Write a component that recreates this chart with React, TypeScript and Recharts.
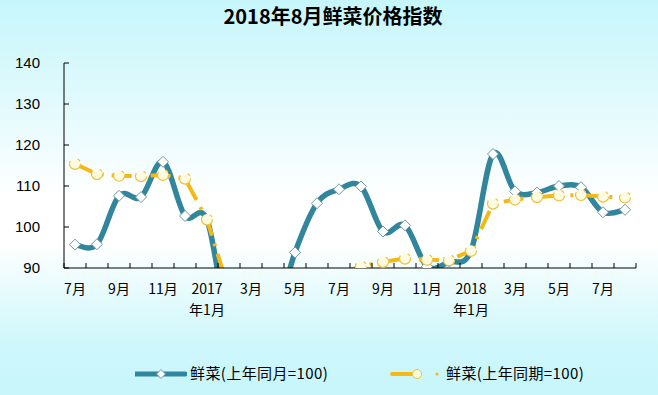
import React from 'react';
import { LineChart, Line, XAxis, YAxis, Legend } from 'recharts';

// 2016-07 ... 2018-08
const months = [
  '2016-07', '2016-08', '2016-09', '2016-10', '2016-11', '2016-12',
  '2017-01', '2017-02', '2017-03', '2017-04', '2017-05', '2017-06',
  '2017-07', '2017-08', '2017-09', '2017-10', '2017-11', '2017-12',
  '2018-01', '2018-02', '2018-03', '2018-04', '2018-05', '2018-06',
  '2018-07', '2018-08',
];
const yoyValues = [
  95.7, 95.8, 107.6, 107.3, 115.9, 102.7,
  101.8, 75.8, 76.0, 76.5, 93.8, 105.8,
  109.2, 109.9, 98.9, 100.4, 90.4, 91.5,
  94.2, 117.8, 108.7, 108.4, 110.0, 109.7,
  103.6, 104.2,
];
const cumValues = [
  115.4, 112.9, 112.5, 112.4, 112.7, 111.8,
  101.8, 84.5, 84.0, 83.5, 84.5, 86.5,
  88.6, 90.4, 91.5, 92.3, 92.0, 91.9,
  94.2, 105.7, 106.7, 107.3, 107.7, 107.8,
  107.4, 107.2,
];
const tickLabelIdx = [0, 2, 4, 6, 8, 10, 12, 14, 16, 18, 20, 22, 24];
const tickLabels = ['7月', '9月', '11月', '2017\n年1月', '3月', '5月', '7月', '9月', '11月', '2018\n年1月', '3月', '5月', '7月'];
const yTicks = [90, 100, 110, 120, 130, 140];
const seriesNames = ['鲜菜(上年同月=100)', '鲜菜(上年同期=100)'];
const title = '2018年8月鲜菜价格指数';

const TEAL = '#31859C';
const YELLOW = '#F5B916';
const CJK = '"Noto Sans CJK SC", "Noto Sans", sans-serif';

const data = months.map((m, i) => ({ idx: i, month: m, yoy: yoyValues[i], cum: cumValues[i] }));

const boundaryTicks = Array.from({ length: months.length + 1 }, (_, i) => i - 0.5);
const xTicks = [...boundaryTicks, ...tickLabelIdx].sort((a, b) => a - b);

// Catmull-Rom style smoothing (similar to office "smoothed line")
const catmullRom = (context: any) => {
  let pts: number[][] = [];
  return {
    areaStart() {},
    areaEnd() {},
    lineStart() { pts = []; },
    point(x: number, y: number) { pts.push([+x, +y]); },
    lineEnd() {
      const n = pts.length;
      if (!n) return;
      context.moveTo(pts[0][0], pts[0][1]);
      if (n === 1) return;
      for (let i = 0; i < n - 1; i++) {
        const p0 = pts[Math.max(i - 1, 0)];
        const p1 = pts[i];
        const p2 = pts[i + 1];
        const p3 = pts[Math.min(i + 2, n - 1)];
        const c1x = p1[0] + (p2[0] - p0[0]) / 6;
        const c1y = p1[1] + (p2[1] - p0[1]) / 6;
        const c2x = p2[0] - (p3[0] - p1[0]) / 6;
        const c2y = p2[1] - (p3[1] - p1[1]) / 6;
        context.bezierCurveTo(c1x, c1y, c2x, c2y, p2[0], p2[1]);
      }
    },
  };
};

const XTick = (props: any) => {
  const { x, y, payload } = props;
  const v = payload.value;
  if (Math.abs(v % 1) > 0.1) {
    return <line x1={x} x2={x} y1={y} y2={y - 5} stroke="#000" strokeWidth={1} />;
  }
  const k = tickLabelIdx.indexOf(v);
  if (k < 0) return <g />;
  const lines = tickLabels[k].split('\n');
  return (
    <text x={x} y={y} textAnchor="middle" fontSize={14} fontFamily={CJK} fill="#000">
      {lines.map((l, j) => (
        <tspan key={j} x={x} dy={j === 0 ? 26 : 20.5}>{l}</tspan>
      ))}
    </text>
  );
};

const YTick = (props: any) => {
  const { x, y, payload } = props;
  return (
    <g>
      <line x1={x} x2={x + 5} y1={y} y2={y} stroke="#000" strokeWidth={1} />
      <text x={x - 24} y={y} dy={5} textAnchor="end" fontSize={15} fontFamily='"Liberation Sans", Arial, sans-serif' fill="#000">
        {payload.value}
      </text>
    </g>
  );
};

const Diamond = (props: any) => {
  const { cx, cy, index } = props;
  if (cx == null || cy == null) return <g key={`d${index}`} />;
  const s = 5.5;
  return (
    <path
      key={`d${index}`}
      d={`M${cx},${cy - s}L${cx + s},${cy}L${cx},${cy + s}L${cx - s},${cy}Z`}
      fill="#ffffff"
      stroke="#6D97A3"
      strokeWidth={1}
    />
  );
};

const LegendContent = (props: any) => {
  const payload = props.payload || [];
  const items = payload.length ? payload : seriesNames.map((n) => ({ value: n }));
  return (
    <div style={{ position: 'relative', width: 658, height: 24 }}>
      <svg style={{ position: 'absolute', left: 135, top: 6 }} width={52} height={12}>
        <line x1={0} x2={50} y1={6} y2={6} stroke={TEAL} strokeWidth={5} strokeLinecap="round" />
        <path d="M26,1.5L30.5,6L26,10.5L21.5,6Z" fill="#fff" stroke="#6D97A3" strokeWidth={1} />
      </svg>
      <span style={{ position: 'absolute', left: 190, top: 1, fontSize: 15, letterSpacing: 0.4, lineHeight: '20px', fontFamily: CJK, color: '#000', whiteSpace: 'nowrap' }}>
        {items[0] ? items[0].value : seriesNames[0]}
      </span>
      <svg style={{ position: 'absolute', left: 390, top: 5, overflow: 'visible' }} width={50} height={14}>
        <line x1={2} x2={26} y1={7} y2={7} stroke={YELLOW} strokeWidth={4} strokeLinecap="round" />
        <circle cx={27} cy={7} r={4.5} fill="#FFFBE0" stroke="#EDC040" strokeWidth={1} />
        <circle cx={47} cy={7} r={1.6} fill={YELLOW} />
      </svg>
      <span style={{ position: 'absolute', left: 446, top: 1, fontSize: 15, letterSpacing: 0.4, lineHeight: '20px', fontFamily: CJK, color: '#000', whiteSpace: 'nowrap' }}>
        {items[1] ? items[1].value : seriesNames[1]}
      </span>
    </div>
  );
};

export default function App() {
  return (
    <div
      style={{
        position: 'absolute',
        left: 0,
        top: 0,
        width: 658,
        height: 395,
        overflow: 'hidden',
        background:
          'linear-gradient(to bottom, #C6F6FB 0%, #DDF9FC 22%, #FFFFFF 50%, #FFFFFF 62%, #E2FAFC 76%, #CDF7FB 88%, #C8F6FB 100%)',
      }}
    >
      <div
        style={{
          position: 'absolute',
          left: 0,
          top: 5,
          width: 666,
          textAlign: 'center',
          fontFamily: CJK,
          fontWeight: 'bold',
          fontSize: 20,
          lineHeight: '22px',
          color: '#000',
        }}
      >
        {title}
      </div>
      <LineChart width={658} height={395} data={data} margin={{ top: 63, right: 22, left: 0, bottom: 77 }}>
        <XAxis
          dataKey="idx"
          type="number"
          domain={[-0.5, 25.5]}
          ticks={xTicks}
          interval={0}
          height={50}
          tickLine={false}
          tickSize={0}
          tickMargin={0}
          axisLine={{ stroke: '#000', strokeWidth: 1 }}
          tick={XTick}
        />
        <YAxis
          type="number"
          domain={[90, 140]}
          ticks={yTicks}
          allowDataOverflow
          width={64}
          interval={0}
          tickLine={false}
          tickSize={0}
          tickMargin={0}
          axisLine={{ stroke: '#000', strokeWidth: 1 }}
          tick={YTick}
        />
        <Legend
          layout="horizontal"
          verticalAlign="middle"
          align="center"
          wrapperStyle={{ left: 0, top: 362, width: 658, height: 24 }}
          content={LegendContent}
        />
        <Line
          name={seriesNames[0]}
          dataKey="yoy"
          type={catmullRom as any}
          stroke={TEAL}
          strokeWidth={5.5}
          dot={Diamond}
          activeDot={false}
          isAnimationActive={false}
        />
        <Line
          name={seriesNames[1]}
          dataKey="cum"
          type="linear"
          stroke={YELLOW}
          strokeWidth={4}
          strokeDasharray="20 8 3 8"
          dot={{ r: 5.5, fill: '#FFFBE0', stroke: '#EDC040', strokeWidth: 1.2 }}
          activeDot={false}
          isAnimationActive={false}
        />
      </LineChart>
    </div>
  );
}
